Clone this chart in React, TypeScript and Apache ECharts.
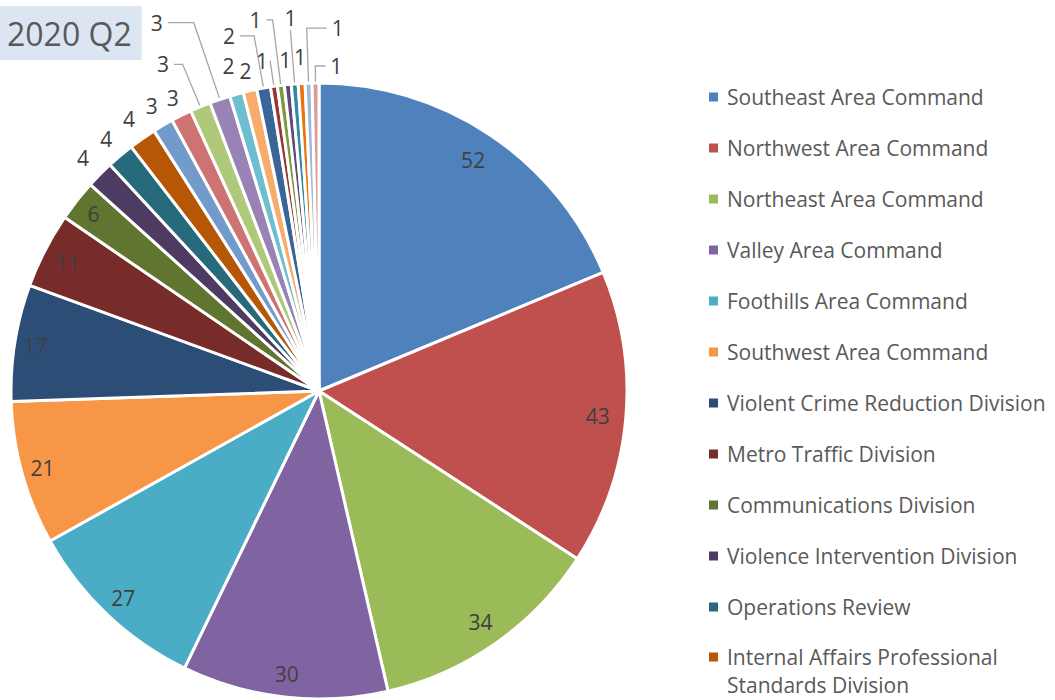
import React, { useEffect, useRef } from 'react';
import * as echarts from 'echarts';

const TITLE = '2020 Q2';

const categories: string[] = [
  'Southeast Area Command',
  'Northwest Area Command',
  'Northeast Area Command',
  'Valley Area Command',
  'Foothills Area Command',
  'Southwest Area Command',
  'Violent Crime Reduction Division',
  'Metro Traffic Division',
  'Communications Division',
  'Violence Intervention Division',
  'Operations Review',
  'Internal Affairs Professional Standards Division',
  'Unit 13',
  'Unit 14',
  'Unit 15',
  'Unit 16',
  'Unit 17',
  'Unit 18',
  'Unit 19',
  'Unit 20',
  'Unit 21',
  'Unit 22',
  'Unit 23',
  'Unit 24',
  'Unit 25',
  'Unit 26',
];

const values: number[] = [52, 43, 34, 30, 27, 21, 17, 11, 6, 4, 4, 4, 3, 3, 3, 3, 2, 2, 2, 1, 1, 1, 1, 1, 1, 1];

const colors: string[] = [
  '#4F81BD', '#C0504D', '#9BBB59', '#8064A2', '#4BACC6', '#F79646',
  '#2C4D75', '#772C2A', '#5F7530', '#4D3B62', '#276A7C', '#B65708',
  '#729ACA', '#CD7371', '#AFC97A', '#9983B5', '#6FBDD1', '#F9AB6B',
  '#3A6598', '#9B3432', '#7A9A3D', '#60497A', '#2F8AA3', '#E8730F',
  '#9DB9DB', '#DB9C9A',
];

const LEGEND_MAIN_COUNT = 11; // first legend block
const LEGEND_WRAPPED_INDEX = 11; // last visible (wrapped) legend entry

// label placement styles (per slice): radial line length, horizontal length, etc.
type Placement = { len: number; len2?: number; line?: boolean; dist?: number; right?: boolean; top?: boolean };
const placements: Placement[] = [
  { len: -30 }, { len: -28 }, { len: -26 }, { len: -23 }, { len: -23 },
  { len: -21 }, { len: -21 }, { len: -25 }, { len: -21 },
  { len: 24 }, { len: 22 }, { len: 23.5 }, { len: 22 }, { len: 19 },
  { len: 46, len2: 8.5, line: true },
  { len: 81, len2: 26, line: true },
  { len: 29.5 }, { len: 20 },
  { len: 53, len2: 14, line: true },
  { len: 26, len2: 0, line: true, dist: 2 },
  { len: 66, len2: 6, line: true },
  { len: 25 },
  { len: 54, len2: 0, line: true, top: true, dist: 0 },
  { len: 26.5 },
  { len: 55, len2: 20, line: true, right: true },
  { len: 17, len2: 10, line: true, right: true },
];

const FONT = "'Open Sans', sans-serif";

export default function App() {
  const ref = useRef<HTMLDivElement>(null);

  useEffect(() => {
    if (!ref.current) return;
    const chart = echarts.init(ref.current, undefined, { renderer: 'svg' });

    const data = categories.map((name, i) => {
      const p = placements[i];
      return {
        name,
        value: values[i],
        itemStyle: { color: colors[i] },
        label: { distanceToLabelLine: p.line ? (p.dist ?? 5) : 0 },
        labelLine: { show: !!p.line, length: p.len, length2: p.len2 ?? 0 },
      };
    });

    const legendText = {
      color: '#595959',
      fontSize: 21,
      fontFamily: FONT,
      lineHeight: 28,
      padding: [0, 0, 0, 4],
    };

    chart.setOption({
      animation: false,
      backgroundColor: '#ffffff',
      textStyle: { fontFamily: FONT },
      title: {
        text: TITLE,
        left: 0,
        top: 6,
        padding: [7, 10, 7, 7],
        backgroundColor: '#DCE6F2',
        textStyle: {
          fontSize: 32,
          fontWeight: 'normal',
          color: '#595959',
          fontFamily: FONT,
          lineHeight: 40,
        },
      },
      legend: [
        {
          orient: 'vertical',
          left: 709,
          top: 83,
          padding: 0,
          itemGap: 23,
          itemWidth: 9,
          itemHeight: 9,
          icon: 'rect',
          selectedMode: false,
          itemStyle: { borderWidth: 0 },
          data: categories.slice(0, LEGEND_MAIN_COUNT),
          textStyle: legendText,
        },
        {
          orient: 'vertical',
          left: 709,
          top: 615,
          padding: 0,
          itemWidth: 9,
          itemHeight: 9,
          icon: 'rect',
          selectedMode: false,
          itemStyle: { borderWidth: 0 },
          data: [categories[LEGEND_WRAPPED_INDEX]],
          // leading blank line keeps the first text line level with the icon
          formatter: (name: string) => '\n' + name,
          textStyle: { ...legendText, width: 320, overflow: 'break' },
        },
      ],
      series: [
        {
          type: 'pie',
          center: [319, 391],
          radius: 308,
          startAngle: 90,
          clockwise: true,
          avoidLabelOverlap: false,
          silent: true,
          itemStyle: { borderColor: '#ffffff', borderWidth: 3 },
          label: {
            show: true,
            position: 'outside',
            formatter: '{c}',
            color: '#404040',
            fontSize: 21,
            fontFamily: FONT,
            lineHeight: 24,
          },
          labelLine: {
            smooth: false,
            lineStyle: { color: '#A6A6A6', width: 1.3 },
          },
          labelLayout: (params: any) => {
            const p = placements[params.dataIndex];
            if (!p) return {};
            if (!p.line) return { align: 'center', verticalAlign: 'middle' };
            if (p.top) return { align: 'center', verticalAlign: 'bottom' };
            if (p.right && params.labelLinePoints) {
              const pts = params.labelLinePoints;
              const p0 = pts[0];
              const p1 = pts[1];
              const p2 = pts[2];
              const nx = p1[0] + (p1[0] - p2[0]);
              return {
                x: nx + 5,
                y: p2[1],
                align: 'left',
                verticalAlign: 'middle',
                labelLinePoints: [p0, p1, [nx, p2[1]]],
              };
            }
            return {};
          },
          data,
        },
      ],
    });

    return () => {
      chart.dispose();
    };
  }, []);

  return (
    <div
      ref={ref}
      style={{ position: 'fixed', left: 0, top: 0, width: 1055, height: 700 }}
    />
  );
}
